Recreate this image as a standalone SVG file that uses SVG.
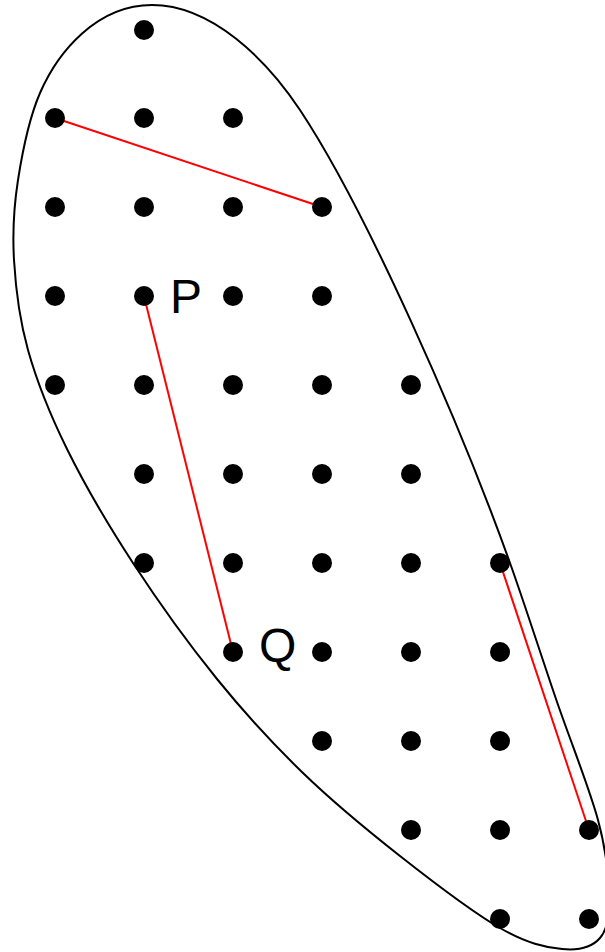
<svg xmlns="http://www.w3.org/2000/svg" width="605" height="952" viewBox="0 0 605 952">
<style>
.dot{fill:#000}
.seg{stroke:#ff0000;stroke-width:2;fill:none}
.outline{stroke:#000;stroke-width:2;fill:none}
.lbl{font-family:"Liberation Sans",Arial,sans-serif;font-size:48px;fill:#000}
</style>
<rect width="605" height="952" fill="#fff"/>
<g id="region">
<path class="outline" d="M152,5 C97,5 58,51.6 40,93 C29.17,118 22.33,152.17 18,180 C13.67,207.83 12.33,231.67 14,260 C15.67,288.33 19.17,318.5 28,350 C36.83,381.5 49.5,413.5 67,449 C84.5,484.5 108,524.67 133,563 C158,601.33 188.67,644 217,679 C245.33,714 272.5,743.5 303,773 C333.5,802.5 367.17,830.17 400,856 C432.83,881.83 473,912.5 500,928 C527,943.5 545.33,947.33 562,949 C578.67,950.67 592.17,947 600,938 C607.83,929 609.33,914.67 609,895 C608.67,875.33 606.83,852.67 598,820 C589.17,787.33 570.67,741.83 556,699 C541.33,656.17 524.5,603.5 510,563 C459.5,421.8 366,209.6 300,110 C267,60 212,5 152,5 Z"/>
</g>
<g id="connectors">
<line class="seg" x1="55" y1="118" x2="322" y2="207"/>
<line class="seg" x1="144" y1="296" x2="233" y2="652"/>
<line class="seg" x1="500" y1="563" x2="589" y2="830"/>
</g>
<g id="dots">
<circle class="dot" cx="144" cy="30" r="10"/>
<circle class="dot" cx="55" cy="118" r="10"/>
<circle class="dot" cx="144" cy="118" r="10"/>
<circle class="dot" cx="233" cy="118" r="10"/>
<circle class="dot" cx="55" cy="207" r="10"/>
<circle class="dot" cx="144" cy="207" r="10"/>
<circle class="dot" cx="233" cy="207" r="10"/>
<circle class="dot" cx="322" cy="207" r="10"/>
<circle class="dot" cx="55" cy="296" r="10"/>
<circle class="dot" cx="144" cy="296" r="10"/>
<circle class="dot" cx="233" cy="296" r="10"/>
<circle class="dot" cx="322" cy="296" r="10"/>
<circle class="dot" cx="55" cy="385" r="10"/>
<circle class="dot" cx="144" cy="385" r="10"/>
<circle class="dot" cx="233" cy="385" r="10"/>
<circle class="dot" cx="322" cy="385" r="10"/>
<circle class="dot" cx="411" cy="385" r="10"/>
<circle class="dot" cx="144" cy="474" r="10"/>
<circle class="dot" cx="233" cy="474" r="10"/>
<circle class="dot" cx="322" cy="474" r="10"/>
<circle class="dot" cx="411" cy="474" r="10"/>
<circle class="dot" cx="144" cy="563" r="10"/>
<circle class="dot" cx="233" cy="563" r="10"/>
<circle class="dot" cx="322" cy="563" r="10"/>
<circle class="dot" cx="411" cy="563" r="10"/>
<circle class="dot" cx="500" cy="563" r="10"/>
<circle class="dot" cx="233" cy="652" r="10"/>
<circle class="dot" cx="322" cy="652" r="10"/>
<circle class="dot" cx="411" cy="652" r="10"/>
<circle class="dot" cx="500" cy="652" r="10"/>
<circle class="dot" cx="322" cy="741" r="10"/>
<circle class="dot" cx="411" cy="741" r="10"/>
<circle class="dot" cx="500" cy="741" r="10"/>
<circle class="dot" cx="411" cy="830" r="10"/>
<circle class="dot" cx="500" cy="830" r="10"/>
<circle class="dot" cx="589" cy="830" r="10"/>
<circle class="dot" cx="500" cy="919" r="10"/>
<circle class="dot" cx="589" cy="919" r="10"/>
</g>
<g id="labels">
<text class="lbl" x="170" y="313">P</text>
<text class="lbl" x="259" y="662">Q</text>
</g>
</svg>
